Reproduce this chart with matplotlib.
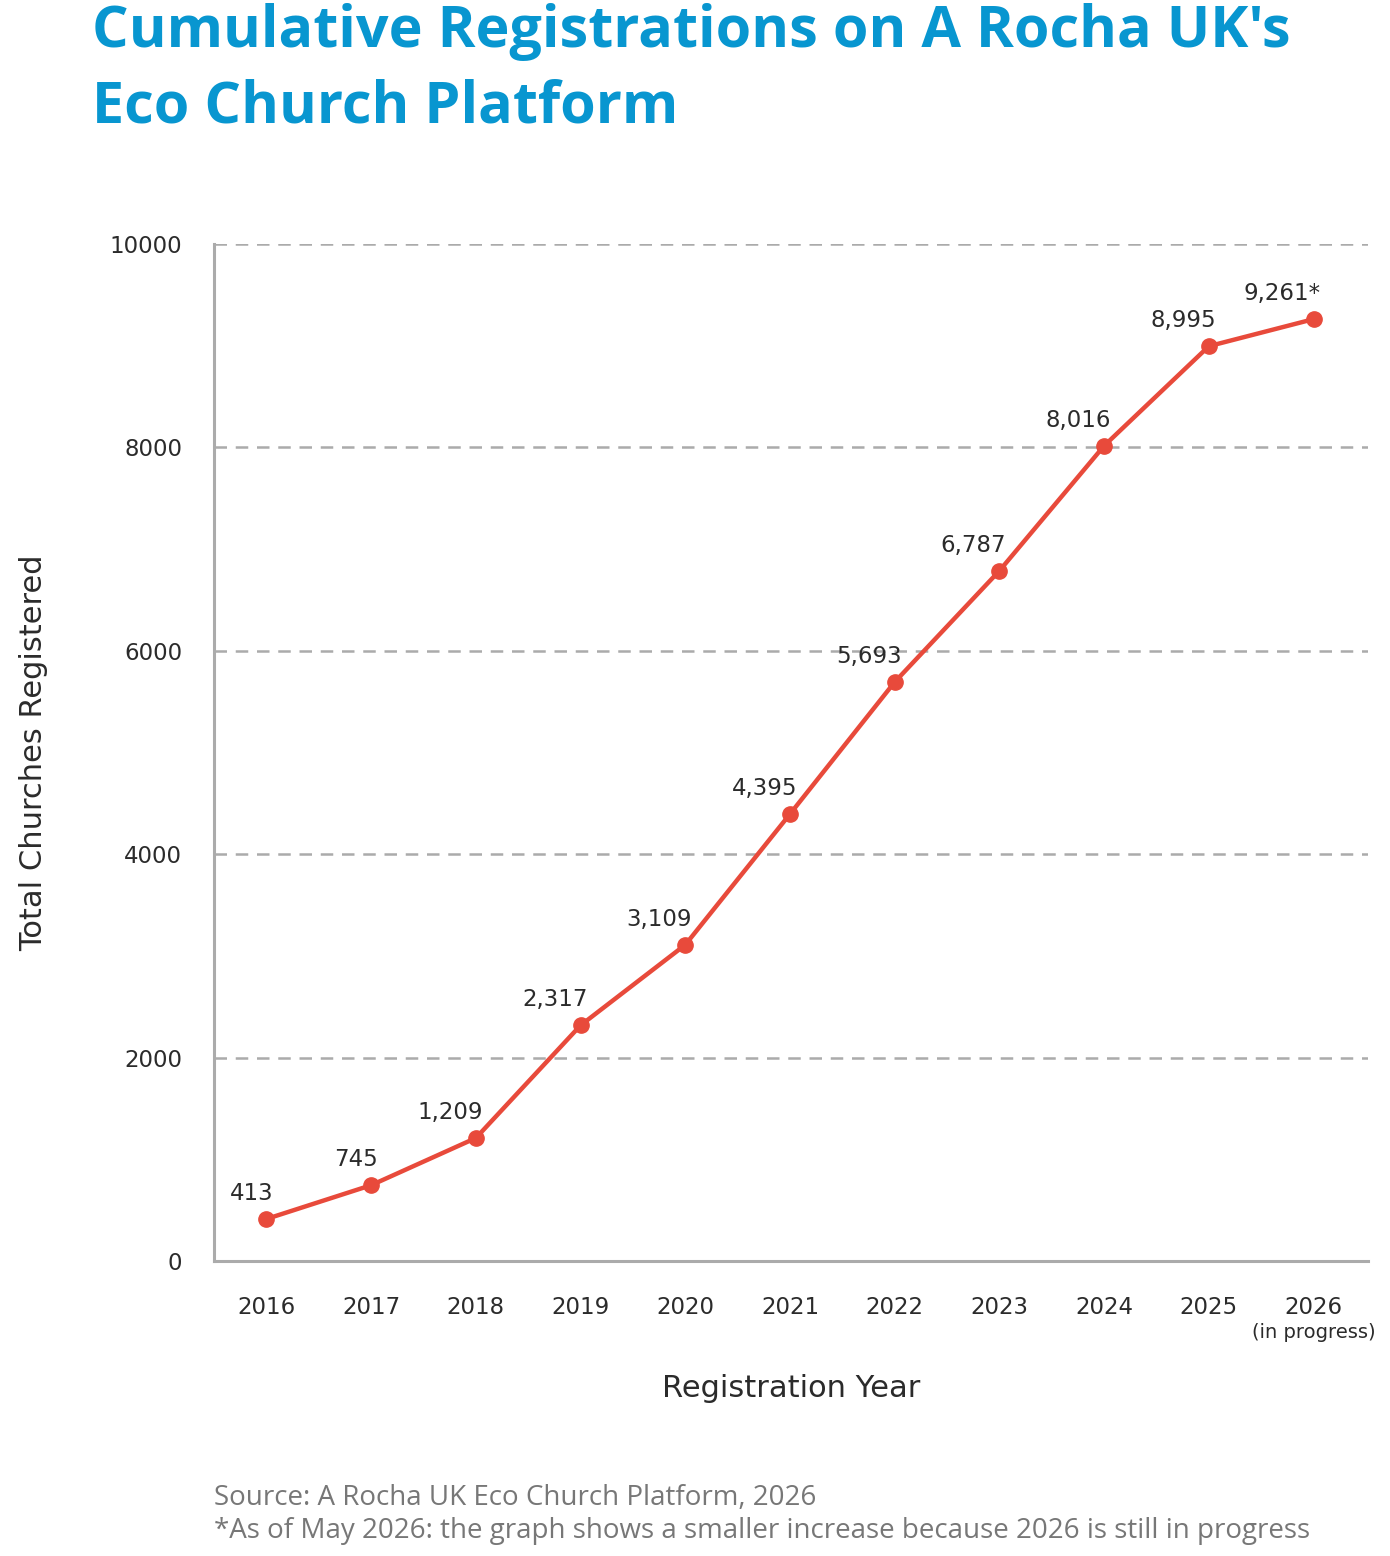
import matplotlib.pyplot as plt
from matplotlib.transforms import blended_transform_factory

years = [2016, 2017, 2018, 2019, 2020, 2021, 2022, 2023, 2024, 2025, 2026]
totals = [413, 745, 1209, 2317, 3109, 4395, 5693, 6787, 8016, 8995, 9261]
point_labels = ['413', '745', '1,209', '2,317', '3,109', '4,395', '5,693',
                '6,787', '8,016', '8,995', '9,261*']
y_ticks = [0, 2000, 4000, 6000, 8000, 10000]

plt.rcParams['font.family'] = ['DejaVu Sans']

blue = '#0896d0'
red = '#e84a3b'
grey = '#ababab'
dark = '#2b2b2b'

fig = plt.figure(figsize=(13.9, 15.56), dpi=100)
ax = fig.add_axes([0.154, 0.1896, 0.8302, 0.6536])

ax.plot(years, totals, color=red, lw=3.2, marker='o', ms=11, zorder=3)
for x, y, lab in zip(years, totals, point_labels):
    ax.annotate(lab, (x, y), xytext=(5, 10), textcoords='offset points',
                ha='right', va='bottom', fontsize=16.5, color=dark)

ax.set_xlim(2015.5, 2026.52)
ax.set_ylim(0, 10000)
ax.set_yticks(y_ticks)
ax.set_yticklabels([str(v) for v in y_ticks])
ax.set_xticks(years)
ax.set_xticklabels([str(y) for y in years])
ax.tick_params(axis='y', length=0, pad=23, labelsize=16.5, labelcolor=dark)
ax.tick_params(axis='x', length=0, pad=25, labelsize=16.5, labelcolor=dark)

for v in y_ticks[1:]:
    ax.axhline(v, color=grey, lw=1.8, ls=(0, (5, 3.5)), zorder=1)

for s in ['top', 'right']:
    ax.spines[s].set_visible(False)
for s in ['left', 'bottom']:
    ax.spines[s].set_color(grey)
    ax.spines[s].set_linewidth(2.2)

trans = blended_transform_factory(ax.transData, ax.transAxes)
ax.text(2026, -0.0708, '(in progress)', transform=trans, ha='center', va='center',
        fontsize=14, color=dark)

ax.set_xlabel('Registration Year', fontsize=22, color=dark)
ax.set_ylabel('Total Churches Registered', fontsize=22, color=dark)
ax.xaxis.set_label_coords(0.5, -0.111)
ax.yaxis.set_label_coords(-0.144, 0.5)

title_font = ['Open Sans', 'DejaVu Sans']
fig.text(0.0662, 0.970, "Cumulative Registrations on A Rocha UK's", fontsize=41.4,
         fontweight='bold', color=blue, va='baseline', ha='left', family=title_font)
fig.text(0.0662, 0.9215, 'Eco Church Platform', fontsize=41.4,
         fontweight='bold', color=blue, va='baseline', ha='left', family=title_font)

fig.text(0.154, 1 - 1498 / 1556, 'Source: A Rocha UK Eco Church Platform, 2026',
         fontsize=20, color='#777777', va='center', ha='left', family=title_font)
fig.text(0.154, 1 - 1531 / 1556,
         '*As of May 2026: the graph shows a smaller increase because 2026 is still in progress',
         fontsize=20, color='#777777', va='center', ha='left', family=title_font)

fig.savefig('out.png', dpi=100)
